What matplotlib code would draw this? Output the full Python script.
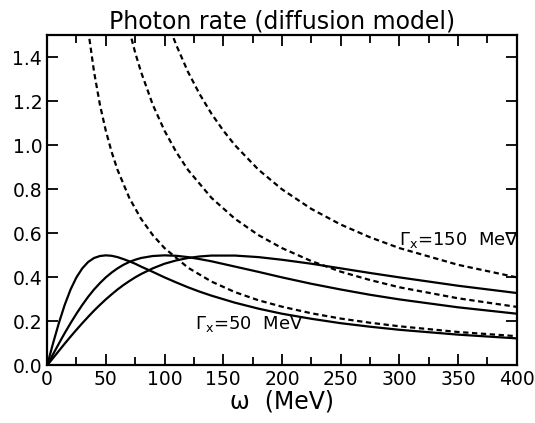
import matplotlib
matplotlib.use("Agg")
import matplotlib.pyplot as plt
from matplotlib.ticker import MultipleLocator, FormatStrFormatter

plt.rcParams["font.family"] = ["DejaVu Sans"]
plt.rcParams["mathtext.fontset"] = "dejavusans"

# solid curves, Gamma_x = 50, 100, 150 MeV
omega_solid = [0, 5, 10, 15, 20, 25, 30, 35, 40, 45, 50, 55, 60, 65, 70, 75,
               80, 90, 100, 110, 120, 130, 140, 160, 180, 200, 225, 250, 275,
               300, 350, 400]
solid_50 = [0, 0.099, 0.192, 0.275, 0.345, 0.400, 0.441, 0.470, 0.488, 0.497,
            0.500, 0.498, 0.492, 0.483, 0.473, 0.462, 0.449, 0.425, 0.400,
            0.377, 0.355, 0.335, 0.317, 0.285, 0.258, 0.235, 0.212, 0.192,
            0.176, 0.162, 0.140, 0.123]
solid_100 = [0, 0.050, 0.099, 0.147, 0.192, 0.235, 0.275, 0.312, 0.345, 0.374,
             0.400, 0.422, 0.441, 0.457, 0.470, 0.480, 0.488, 0.497, 0.500,
             0.498, 0.492, 0.483, 0.473, 0.449, 0.425, 0.400, 0.371, 0.345,
             0.321, 0.300, 0.264, 0.235]
solid_150 = [0, 0.033, 0.066, 0.099, 0.131, 0.162, 0.192, 0.221, 0.249, 0.275,
             0.300, 0.323, 0.345, 0.365, 0.383, 0.400, 0.415, 0.441, 0.462,
             0.477, 0.488, 0.495, 0.499, 0.499, 0.492, 0.480, 0.462, 0.441,
             0.420, 0.400, 0.362, 0.329]

# dashed curves
omega_d50 = [35, 40, 45, 50, 55, 60, 70, 80, 90, 100, 120, 140, 160, 180, 200,
             225, 250, 275, 300, 350, 400]
dashed_50 = [1.523, 1.333, 1.184, 1.066, 0.969, 0.888, 0.761, 0.666, 0.592,
             0.533, 0.444, 0.381, 0.333, 0.296, 0.267, 0.237, 0.213, 0.194,
             0.178, 0.152, 0.133]
omega_d100 = [70, 75, 80, 90, 100, 110, 120, 140, 160, 180, 200, 225, 250, 275,
              300, 350, 400]
dashed_100 = [1.523, 1.421, 1.333, 1.184, 1.066, 0.969, 0.888, 0.761, 0.666,
              0.592, 0.533, 0.474, 0.426, 0.388, 0.355, 0.305, 0.266]
omega_d150 = [105, 110, 120, 130, 140, 150, 160, 180, 200, 225, 250, 275, 300,
              350, 400]
dashed_150 = [1.524, 1.455, 1.333, 1.231, 1.143, 1.067, 1.000, 0.889, 0.800,
              0.711, 0.640, 0.582, 0.533, 0.457, 0.400]

fig = plt.figure(figsize=(5.35, 4.23), dpi=100)
ax = fig.add_axes([0.088, 0.136, 0.878, 0.781])

for y in (solid_50, solid_100, solid_150):
    ax.plot(omega_solid, y, color="black", lw=1.6)
for x, y in ((omega_d50, dashed_50), (omega_d100, dashed_100),
             (omega_d150, dashed_150)):
    ax.plot(x, y, color="black", lw=1.6, ls=(0, (2.4, 1.6)))

ax.text(300, 0.547, r"$\Gamma_{\mathrm{x}}$=150  MeV", fontsize=13)
ax.text(126, 0.165, r"$\Gamma_{\mathrm{x}}$=50  MeV", fontsize=13)

ax.set_xlim(0, 400)
ax.set_ylim(0, 1.5)
ax.xaxis.set_major_locator(MultipleLocator(50))
ax.xaxis.set_minor_locator(MultipleLocator(25))
ax.yaxis.set_major_locator(MultipleLocator(0.2))
ax.yaxis.set_major_formatter(FormatStrFormatter("%.1f"))
ax.tick_params(which="both", direction="in", top=True, right=True,
               width=1.3, labelsize=13.5)
ax.tick_params(which="major", length=8)
ax.tick_params(which="minor", length=6)
for s in ax.spines.values():
    s.set_linewidth(1.6)

ax.set_title("Photon rate (diffusion model)", fontsize=17, pad=5)
ax.set_xlabel("ω  (MeV)", fontsize=17, labelpad=0)

fig.savefig("out.png", dpi=100)
